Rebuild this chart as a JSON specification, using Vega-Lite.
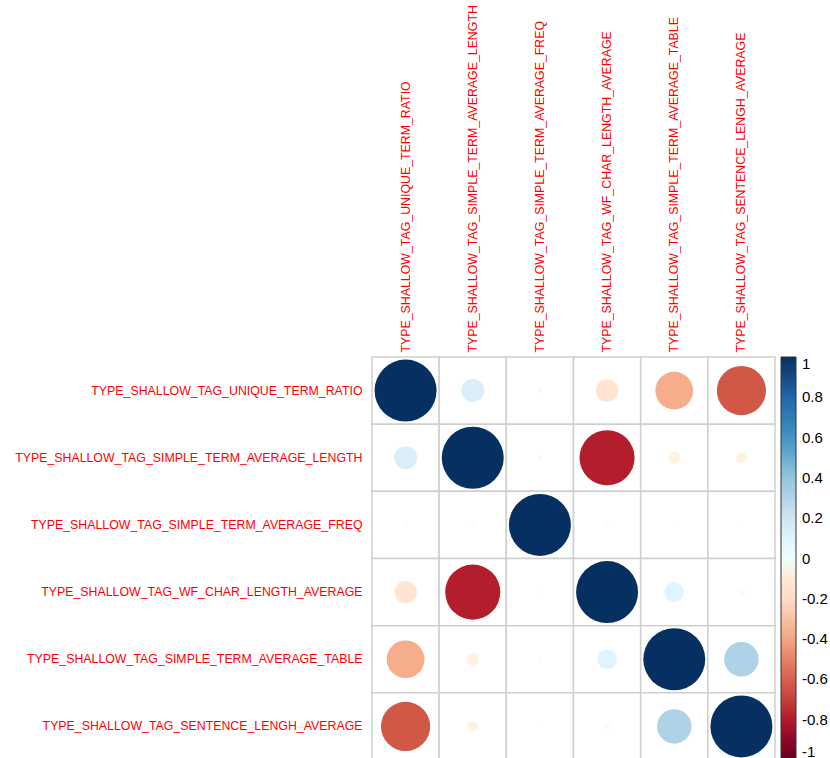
{
  "$schema": "https://vega.github.io/schema/vega-lite/v6.json",
  "width": 403,
  "height": 403,
  "padding": {"left": 14, "top": 4, "right": 0, "bottom": 0},
  "background": "white",
  "config": {
    "view": {"stroke": null},
    "font": "Liberation Sans",
    "axis": {"labelFont": "Liberation Sans"}
  },
  "data": {
    "values": [
      {"row": "TYPE_SHALLOW_TAG_UNIQUE_TERM_RATIO", "col": "TYPE_SHALLOW_TAG_UNIQUE_TERM_RATIO", "r": 1},
      {"row": "TYPE_SHALLOW_TAG_UNIQUE_TERM_RATIO", "col": "TYPE_SHALLOW_TAG_SIMPLE_TERM_AVERAGE_LENGTH", "r": 0.14},
      {"row": "TYPE_SHALLOW_TAG_UNIQUE_TERM_RATIO", "col": "TYPE_SHALLOW_TAG_SIMPLE_TERM_AVERAGE_FREQ", "r": 0.004},
      {"row": "TYPE_SHALLOW_TAG_UNIQUE_TERM_RATIO", "col": "TYPE_SHALLOW_TAG_WF_CHAR_LENGTH_AVERAGE", "r": -0.13},
      {"row": "TYPE_SHALLOW_TAG_UNIQUE_TERM_RATIO", "col": "TYPE_SHALLOW_TAG_SIMPLE_TERM_AVERAGE_TABLE", "r": -0.37},
      {"row": "TYPE_SHALLOW_TAG_UNIQUE_TERM_RATIO", "col": "TYPE_SHALLOW_TAG_SENTENCE_LENGH_AVERAGE", "r": -0.63},

      {"row": "TYPE_SHALLOW_TAG_SIMPLE_TERM_AVERAGE_LENGTH", "col": "TYPE_SHALLOW_TAG_UNIQUE_TERM_RATIO", "r": 0.14},
      {"row": "TYPE_SHALLOW_TAG_SIMPLE_TERM_AVERAGE_LENGTH", "col": "TYPE_SHALLOW_TAG_SIMPLE_TERM_AVERAGE_LENGTH", "r": 1},
      {"row": "TYPE_SHALLOW_TAG_SIMPLE_TERM_AVERAGE_LENGTH", "col": "TYPE_SHALLOW_TAG_SIMPLE_TERM_AVERAGE_FREQ", "r": 0.004},
      {"row": "TYPE_SHALLOW_TAG_SIMPLE_TERM_AVERAGE_LENGTH", "col": "TYPE_SHALLOW_TAG_WF_CHAR_LENGTH_AVERAGE", "r": -0.79},
      {"row": "TYPE_SHALLOW_TAG_SIMPLE_TERM_AVERAGE_LENGTH", "col": "TYPE_SHALLOW_TAG_SIMPLE_TERM_AVERAGE_TABLE", "r": -0.04},
      {"row": "TYPE_SHALLOW_TAG_SIMPLE_TERM_AVERAGE_LENGTH", "col": "TYPE_SHALLOW_TAG_SENTENCE_LENGH_AVERAGE", "r": -0.03},

      {"row": "TYPE_SHALLOW_TAG_SIMPLE_TERM_AVERAGE_FREQ", "col": "TYPE_SHALLOW_TAG_UNIQUE_TERM_RATIO", "r": 0.004},
      {"row": "TYPE_SHALLOW_TAG_SIMPLE_TERM_AVERAGE_FREQ", "col": "TYPE_SHALLOW_TAG_SIMPLE_TERM_AVERAGE_LENGTH", "r": 0.004},
      {"row": "TYPE_SHALLOW_TAG_SIMPLE_TERM_AVERAGE_FREQ", "col": "TYPE_SHALLOW_TAG_SIMPLE_TERM_AVERAGE_FREQ", "r": 1},
      {"row": "TYPE_SHALLOW_TAG_SIMPLE_TERM_AVERAGE_FREQ", "col": "TYPE_SHALLOW_TAG_WF_CHAR_LENGTH_AVERAGE", "r": 0.004},
      {"row": "TYPE_SHALLOW_TAG_SIMPLE_TERM_AVERAGE_FREQ", "col": "TYPE_SHALLOW_TAG_SIMPLE_TERM_AVERAGE_TABLE", "r": 0.003},
      {"row": "TYPE_SHALLOW_TAG_SIMPLE_TERM_AVERAGE_FREQ", "col": "TYPE_SHALLOW_TAG_SENTENCE_LENGH_AVERAGE", "r": 0.002},

      {"row": "TYPE_SHALLOW_TAG_WF_CHAR_LENGTH_AVERAGE", "col": "TYPE_SHALLOW_TAG_UNIQUE_TERM_RATIO", "r": -0.13},
      {"row": "TYPE_SHALLOW_TAG_WF_CHAR_LENGTH_AVERAGE", "col": "TYPE_SHALLOW_TAG_SIMPLE_TERM_AVERAGE_LENGTH", "r": -0.79},
      {"row": "TYPE_SHALLOW_TAG_WF_CHAR_LENGTH_AVERAGE", "col": "TYPE_SHALLOW_TAG_SIMPLE_TERM_AVERAGE_FREQ", "r": 0.004},
      {"row": "TYPE_SHALLOW_TAG_WF_CHAR_LENGTH_AVERAGE", "col": "TYPE_SHALLOW_TAG_WF_CHAR_LENGTH_AVERAGE", "r": 1},
      {"row": "TYPE_SHALLOW_TAG_WF_CHAR_LENGTH_AVERAGE", "col": "TYPE_SHALLOW_TAG_SIMPLE_TERM_AVERAGE_TABLE", "r": 0.1},
      {"row": "TYPE_SHALLOW_TAG_WF_CHAR_LENGTH_AVERAGE", "col": "TYPE_SHALLOW_TAG_SENTENCE_LENGH_AVERAGE", "r": 0.01},

      {"row": "TYPE_SHALLOW_TAG_SIMPLE_TERM_AVERAGE_TABLE", "col": "TYPE_SHALLOW_TAG_UNIQUE_TERM_RATIO", "r": -0.37},
      {"row": "TYPE_SHALLOW_TAG_SIMPLE_TERM_AVERAGE_TABLE", "col": "TYPE_SHALLOW_TAG_SIMPLE_TERM_AVERAGE_LENGTH", "r": -0.04},
      {"row": "TYPE_SHALLOW_TAG_SIMPLE_TERM_AVERAGE_TABLE", "col": "TYPE_SHALLOW_TAG_SIMPLE_TERM_AVERAGE_FREQ", "r": 0.003},
      {"row": "TYPE_SHALLOW_TAG_SIMPLE_TERM_AVERAGE_TABLE", "col": "TYPE_SHALLOW_TAG_WF_CHAR_LENGTH_AVERAGE", "r": 0.1},
      {"row": "TYPE_SHALLOW_TAG_SIMPLE_TERM_AVERAGE_TABLE", "col": "TYPE_SHALLOW_TAG_SIMPLE_TERM_AVERAGE_TABLE", "r": 1},
      {"row": "TYPE_SHALLOW_TAG_SIMPLE_TERM_AVERAGE_TABLE", "col": "TYPE_SHALLOW_TAG_SENTENCE_LENGH_AVERAGE", "r": 0.31},

      {"row": "TYPE_SHALLOW_TAG_SENTENCE_LENGH_AVERAGE", "col": "TYPE_SHALLOW_TAG_UNIQUE_TERM_RATIO", "r": -0.63},
      {"row": "TYPE_SHALLOW_TAG_SENTENCE_LENGH_AVERAGE", "col": "TYPE_SHALLOW_TAG_SIMPLE_TERM_AVERAGE_LENGTH", "r": -0.03},
      {"row": "TYPE_SHALLOW_TAG_SENTENCE_LENGH_AVERAGE", "col": "TYPE_SHALLOW_TAG_SIMPLE_TERM_AVERAGE_FREQ", "r": 0.002},
      {"row": "TYPE_SHALLOW_TAG_SENTENCE_LENGH_AVERAGE", "col": "TYPE_SHALLOW_TAG_WF_CHAR_LENGTH_AVERAGE", "r": 0.01},
      {"row": "TYPE_SHALLOW_TAG_SENTENCE_LENGH_AVERAGE", "col": "TYPE_SHALLOW_TAG_SIMPLE_TERM_AVERAGE_TABLE", "r": 0.31},
      {"row": "TYPE_SHALLOW_TAG_SENTENCE_LENGH_AVERAGE", "col": "TYPE_SHALLOW_TAG_SENTENCE_LENGH_AVERAGE", "r": 1}
    ]
  },
  "transform": [{"calculate": "abs(datum.r)", "as": "absr"}],
  "encoding": {
    "x": {
      "field": "col", "type": "nominal", "sort": null, "title": null,
      "scale": {"type": "band", "paddingInner": 0, "paddingOuter": 0},
      "axis": {
        "orient": "top", "labelAngle": -90, "domain": false, "ticks": false,
        "labelColor": "#ff0000", "labelFontSize": 12.35, "labelPadding": 5,
        "labelLimit": 600
      }
    },
    "y": {
      "field": "row", "type": "nominal", "sort": null, "title": null,
      "scale": {"type": "band", "paddingInner": 0, "paddingOuter": 0},
      "axis": {
        "domain": false, "ticks": false,
        "labelColor": "#ff0000", "labelFontSize": 12.35, "labelPadding": 10,
        "labelLimit": 600
      }
    }
  },
  "layer": [
    {
      "mark": {"type": "rect", "fill": "white", "stroke": "#cfcfcf", "strokeWidth": 1.5}
    },
    {
      "mark": {"type": "circle", "opacity": 1},
      "encoding": {
        "size": {
          "field": "absr", "type": "quantitative", "legend": null,
          "scale": {"type": "linear", "domain": [0, 1], "range": [0, 3844], "zero": true}
        },
        "color": {
          "field": "r", "type": "quantitative", "title": null,
          "scale": {
            "type": "linear",
            "domain": [-1, -0.8, -0.6, -0.4, -0.2, 0, 0.2, 0.4, 0.6, 0.8, 1],
            "range": ["#67001F", "#B2182B", "#D6604D", "#F4A582", "#FDDBC7", "#FFFFFF", "#D1E5F0", "#92C5DE", "#4393C3", "#2166AC", "#053061"]
          },
          "legend": {
            "orient": "none", "legendX": 409, "legendY": 0,
            "direction": "vertical",
            "gradientLength": 403, "gradientThickness": 15,
            "gradientStrokeColor": "#333333", "gradientStrokeWidth": 1,
            "values": [1, 0.8, 0.6, 0.4, 0.2, 0, -0.2, -0.4, -0.6, -0.8, -1],
            "labelExpr": "'' + datum.value",
            "labelAlign": "center", "labelBaseline": "middle",
            "labelOffset": 6, "labelFontSize": 15, "labelColor": "#000000",
            "labelOverlap": false, "padding": 0
          }
        }
      }
    }
  ]
}
